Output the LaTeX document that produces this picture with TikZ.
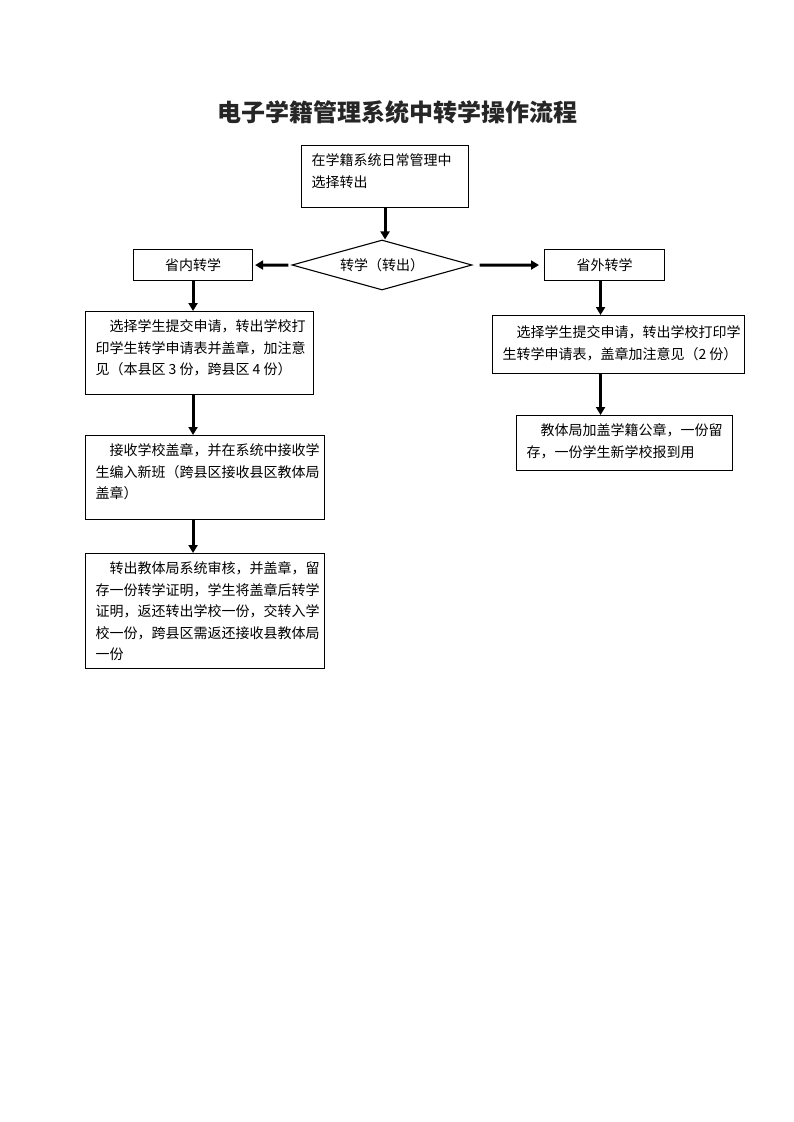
\documentclass[tikz,border=0pt]{standalone}
\usepackage{fontspec}
\setmainfont{Noto Sans CJK SC}
\usetikzlibrary{arrows.meta,shapes.geometric}

% text block in a box, set from the top
\newcommand\boxtext[4][20pt]{\parbox[c][#3][t]{#2}{\rule{0pt}{#1}#4}}

\tikzset{
  stepbox/.style={draw, line width=1.1pt, inner xsep=10pt, inner ysep=0pt,
    anchor=north west, font=\fontsize{14}{21.5}\selectfont},
  labelbox/.style={draw, line width=1.1pt, inner sep=0pt, anchor=north west,
    font=\fontsize{14}{16}\selectfont},
  flow/.style={line width=3pt, -{Triangle[length=8pt,width=9pt]}}
}

\begin{document}
\begin{tikzpicture}[x=1pt,y=-1pt]
            {
    \def\indent{\hspace*{1em}}

    \useasboundingbox (0,0) rectangle (793,1122);

    \node[font=\fontsize{24}{28}\selectfont\bfseries, text=black!85] (title) at (397,112)
      {电子学籍管理系统中转学操作流程};

    \node[stepbox] (start) at (301,145)
      {\boxtext{147pt}{62pt}{在学籍系统日常管理中\\选择转出}};

    \node[draw, line width=1.1pt, shape=diamond, shape aspect=3.6, inner sep=0pt,
      minimum width=180pt, minimum height=50pt, font=\fontsize{14}{16}\selectfont]
      (split) at (382,265) {转学（转出）};

    \node[labelbox, minimum width=119pt, minimum height=31pt] (inprov) at (133,249) {省内转学};
    \node[labelbox, minimum width=120pt, minimum height=31pt] (outprov) at (544,249) {省外转学};

    % inside the province
    \node[stepbox] (apply) at (85,311)
      {\boxtext{208pt}{83pt}{\indent 选择学生提交申请，转出学校打\\印学生转学申请表并盖章，加注意\\见（本县区 3 份，跨县区 4 份）}};
    \node[stepbox] (accept) at (85,435)
      {\boxtext{219pt}{84pt}{\indent 接收学校盖章，并在系统中接收学\\生编入新班（跨县区接收县区教体局\\盖章）}};
    \node[stepbox] (audit) at (85,553)
      {\boxtext{219pt}{115pt}{\indent 转出教体局系统审核，并盖章，留\\存一份转学证明，学生将盖章后转学\\证明，返还转出学校一份，交转入学\\校一份，跨县区需返还接收县教体局\\一份}};

    % outside the province
    \node[stepbox] (rapply) at (492,315)
      {\boxtext[22pt]{232pt}{58pt}{\indent 选择学生提交申请，转出学校打印学\\\mbox{生转学申请表，盖章加注意见（2~份）}}};
    \node[stepbox] (rstamp) at (516,415)
      {\boxtext{196pt}{55pt}{\indent 教体局加盖学籍公章，一份留\\存，一份学生新学校报到用}};

    \draw[flow] (start.south) -- (start.south |- split.north);
    \draw[flow, shorten <=3pt, shorten >=2pt] (split.west) -- (inprov.east);
    \draw[flow, shorten <=7pt, shorten >=5pt] (split.east) -- (outprov.west);

    \draw[flow] (inprov.south) -- (inprov.south |- apply.north);
    \draw[flow] (inprov.south |- apply.south) -- (inprov.south |- accept.north);
    \draw[flow] (inprov.south |- accept.south) -- (inprov.south |- audit.north);

    \draw[flow] ([xshift=-4pt]outprov.south) -- ([xshift=-4pt]outprov.south |- rapply.north);
    \draw[flow] ([xshift=-4pt]outprov.south |- rapply.south) -- ([xshift=-4pt]outprov.south |- rstamp.north);
}
\end{tikzpicture}
\end{document}
